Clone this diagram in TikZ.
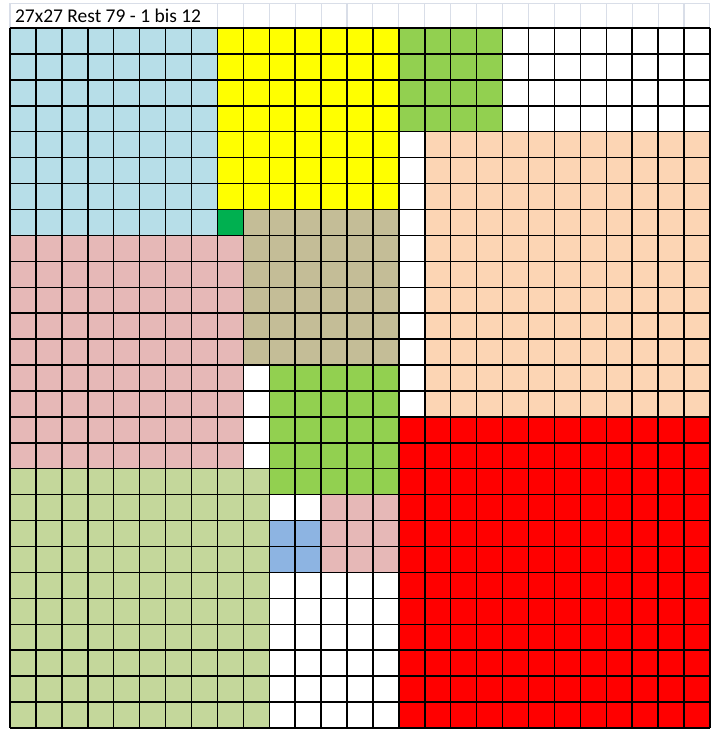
\documentclass[tikz,border=0pt]{standalone}
\usepackage{fontspec}
\setmainfont{Carlito}
\usepackage{tikz}

\definecolor{lblue}{HTML}{B7DEE8}
\definecolor{xyellow}{HTML}{FFFF00}
\definecolor{lgreen}{HTML}{92D050}
\definecolor{peach}{HTML}{FCD5B4}
\definecolor{dgreen}{HTML}{00B050}
\definecolor{tan}{HTML}{C4BD97}
\definecolor{rose}{HTML}{E6B8B7}
\definecolor{olive}{HTML}{C4D79B}
\definecolor{xred}{HTML}{FF0000}
\definecolor{xblue}{HTML}{8DB4E2}
\definecolor{headline}{HTML}{D9DEE8}

\begin{document}
\begin{tikzpicture}[
    x=0.5cm, y=-0.5cm,
    every node/.style={font=\fontsize{10.7}{12}\selectfont},
    cellgrid/.style={line width=0.8pt, black},
    headgrid/.style={line width=0.6pt, headline},
    sq/.style={fill=#1, draw=none}
]
\useasboundingbox (-0.387,-1.083) rectangle (27.19,27.04);

% header row
\draw[headgrid] (0,-0.96) -- (27,-0.96);
\draw[headgrid] (0,-0.96) -- (0,0);
\foreach \c in {8,...,27}
  \draw[headgrid] (\c,-0.96) -- (\c,0);
\node[anchor=west, inner sep=0pt] (title) at (0.18,-0.48) {27x27 Rest 79 - 1 bis 12};

% squares: column/row/size/colour
\foreach \c/\r/\s/\col in {0/0/8/lblue, 8/0/7/xyellow, 15/0/4/lgreen,
    16/4/11/peach, 8/7/1/dgreen, 9/7/6/tan, 0/8/9/rose, 10/13/5/lgreen,
    15/15/12/xred, 0/17/10/olive, 12/18/3/rose, 10/19/2/xblue}
  \fill[sq=\col] (\c,\r) rectangle ++(\s,\s);

% cell lines
\foreach \i in {0,...,27} {
  \draw[cellgrid] (\i,0) -- (\i,27);
  \draw[cellgrid] (0,\i) -- (27,\i);
}
\end{tikzpicture}
\end{document}
